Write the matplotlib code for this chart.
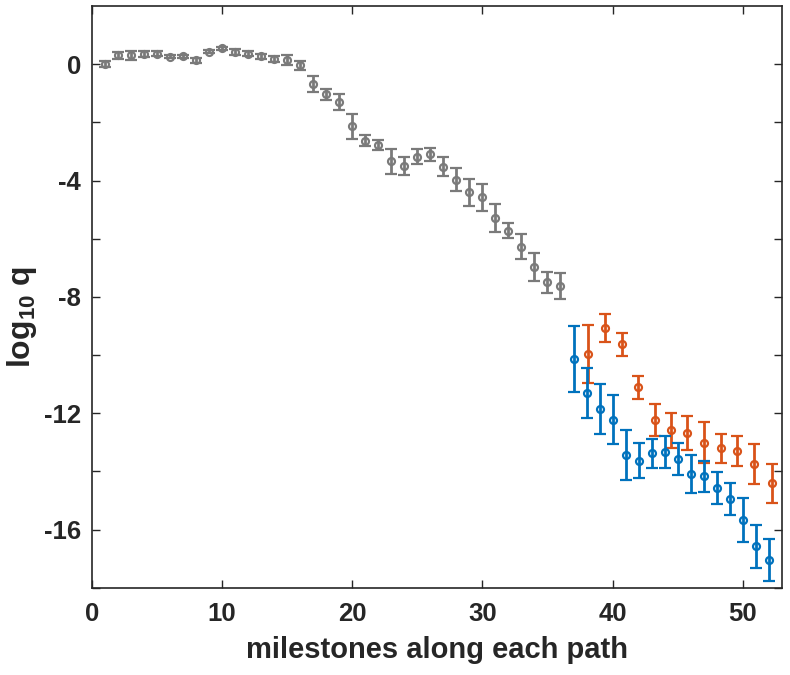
import numpy as np
import matplotlib
matplotlib.use('Agg')
import matplotlib.pyplot as plt

# gray path, milestones 1..36
gray_x = np.arange(1, 37)
gray_y = [0.0, 0.30, 0.30, 0.35, 0.36, 0.25, 0.27, 0.13, 0.43, 0.55,
          0.43, 0.36, 0.27, 0.17, 0.15, -0.04, -0.67, -1.03, -1.30, -2.14,
          -2.64, -2.78, -3.33, -3.50, -3.18, -3.10, -3.53, -3.97, -4.41, -4.58,
          -5.29, -5.72, -6.27, -6.97, -7.50, -7.63]
gray_err = [0.10, 0.12, 0.15, 0.10, 0.08, 0.05, 0.05, 0.08, 0.05, 0.05,
            0.10, 0.08, 0.08, 0.10, 0.18, 0.15, 0.28, 0.19, 0.28, 0.43,
            0.19, 0.17, 0.43, 0.32, 0.26, 0.23, 0.33, 0.40, 0.46, 0.46,
            0.48, 0.27, 0.44, 0.47, 0.36, 0.45]

# blue path, milestones 37..52
blue_x = np.arange(37, 53)
blue_y = [-10.14, -11.30, -11.85, -12.22, -13.44, -13.63, -13.38, -13.33,
          -13.58, -14.09, -14.17, -14.58, -14.95, -15.66, -16.58, -17.06]
blue_err = [1.13, 0.85, 0.86, 0.84, 0.85, 0.61, 0.50, 0.54,
            0.54, 0.65, 0.54, 0.55, 0.55, 0.76, 0.75, 0.72]

# orange path
orange_x = [38.14, 39.42, 40.74, 41.92, 43.25, 44.5, 45.75, 47.05,
            48.3, 49.58, 50.86, 52.26]
orange_y = [-9.96, -9.07, -9.63, -11.11, -12.24, -12.59, -12.68, -13.01,
            -13.21, -13.30, -13.75, -14.41]
orange_err = [1.00, 0.49, 0.39, 0.40, 0.55, 0.61, 0.60, 0.71,
              0.51, 0.51, 0.69, 0.68]

plt.rcParams['font.family'] = ['Liberation Sans', 'DejaVu Sans']
plt.rcParams['font.weight'] = 'bold'
plt.rcParams['axes.unicode_minus'] = False
plt.rcParams['mathtext.fontset'] = 'custom'
plt.rcParams['mathtext.rm'] = 'Liberation Sans:bold'
plt.rcParams['mathtext.bf'] = 'Liberation Sans:bold'

fig = plt.figure(figsize=(7.9, 6.75), dpi=100)
ax = fig.add_axes([0.1165, 0.1293, 0.873, 0.8618])

style = dict(fmt='o', markersize=5, markerfacecolor='none', markeredgewidth=1.6,
             elinewidth=2, capsize=4.5, capthick=2)
ax.errorbar(gray_x, gray_y, yerr=gray_err, color='#7a7a7a', **style)
ax.errorbar(orange_x, orange_y, yerr=orange_err, color='#D95319', **style)
ax.errorbar(blue_x, blue_y, yerr=blue_err, color='#0072BD', **style)

ax.set_xlim(0, 53)
ax.set_ylim(-18, 2)
ax.set_xticks([0, 10, 20, 30, 40, 50])
ax.set_yticks([0, -4, -8, -12, -16])
ax.set_yticks(np.arange(-18, 2, 2), minor=True)
ax.tick_params(which='both', direction='in', top=True, right=True,
               labelsize=18.5, width=1, length=6, color='#262626',
               labelcolor='#262626')
ax.tick_params(axis='x', pad=10)
ax.tick_params(axis='y', pad=8)
for s in ax.spines.values():
    s.set_linewidth(1.2)
    s.set_color('#262626')

ax.set_xlabel('milestones along each path', fontsize=21, fontweight='bold',
              color='#262626')
ax.xaxis.set_label_coords(0.5, -0.083)
ax.set_ylabel(r'$\mathbf{log_{10}}$ q', fontsize=23, fontweight='bold',
              color='#262626')
ax.yaxis.set_label_coords(-0.077, 0.465)

fig.savefig('out.png', dpi=100)
